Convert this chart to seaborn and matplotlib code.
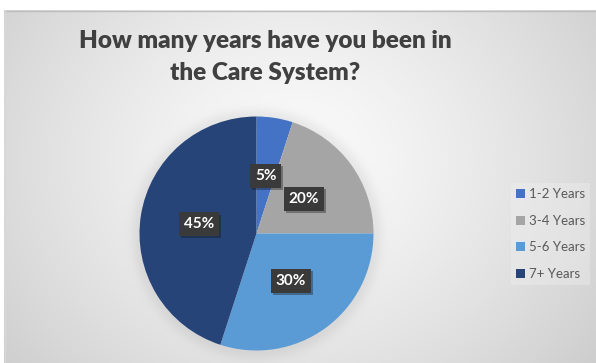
import numpy as np
import matplotlib
matplotlib.use("Agg")
import matplotlib.pyplot as plt
import matplotlib.patheffects as pe
import seaborn as sns

# Survey answers: years spent in the care system
categories = ["1-2 Years", "3-4 Years", "5-6 Years", "7+ Years"]
shares = [5, 20, 30, 45]
title = "How many years have you been in\nthe Care System?"

sns.set_style("white")
plt.rcParams["font.family"] = ["Lato", "DejaVu Sans"]
palette = sns.color_palette(["#4472C4", "#A5A5A5", "#5B9BD5", "#264478"])

W, H = 596, 363
fig = plt.figure(figsize=(W / 100, H / 100), dpi=100)
fig.patch.set_facecolor("white")

# Chart area with a soft radial gradient and a faint glow around the pie
left_px, top_px = 4, 10
bw, bh = W - left_px, H - top_px
bg = fig.add_axes([left_px / W, 0, bw / W, bh / H])
yy, xx = np.mgrid[0:bh, 0:bw]
cx, cy = 290, 150
d = np.sqrt(((xx - cx) / 1.15) ** 2 + (yy - cy) ** 2)
val = 0.985 - 0.20 * np.clip(d / 360, 0, 1) ** 1.3
pcx, pcy, pr = 256.5 - left_px, 233.5 - top_px, 117
dp = np.sqrt((xx - pcx) ** 2 + (yy - pcy) ** 2)
val -= 0.06 * np.exp(-((dp - pr) / 9) ** 2)
img = np.dstack([val, val, val])
bg.imshow(img, extent=(0, bw, bh, 0), aspect="auto", interpolation="bilinear")
bg.set_xlim(0, bw)
bg.set_ylim(bh, 0)
bg.axis("off")
bg.plot([0, bw], [0.5, 0.5], color="#bdbdbd", lw=1)
bg.plot([0.5, 0.5], [0, bh], color="#d8d8d8", lw=1)

# Pie
side = 2 * pr
ax = fig.add_axes([(256.5 - pr) / W, (H - 233.5 - pr) / H, side / W, side / H])
wedges, texts, autotexts = ax.pie(
    shares,
    colors=palette,
    startangle=90,
    counterclock=False,
    autopct=lambda p: f"{p:.0f}%",
    pctdistance=0.5,
    radius=1,
    wedgeprops=dict(linewidth=0),
    textprops=dict(color="white", fontsize=11, fontweight="bold"),
)
ax.set_xlim(-1, 1)
ax.set_ylim(-1, 1)
ax.set_aspect("equal")
ax.axis("off")
for t in autotexts:
    t.set_bbox(dict(boxstyle="square,pad=0.32", facecolor="#3a3a3a", edgecolor="none"))
    t.get_bbox_patch().set_path_effects(
        [pe.SimplePatchShadow(offset=(1.5, -1.5), alpha=0.35), pe.Normal()]
    )

# Title
fig.text(265 / W, 1 - 57 / H, title, ha="center", va="center",
         fontsize=17.5, fontweight="heavy", color="#404040", linespacing=1.5)

# Legend
leg = fig.legend(
    wedges, categories,
    loc="upper left", bbox_to_anchor=(511 / W, 1 - 183 / H),
    frameon=True, fontsize=9.5, labelcolor="#595959",
    handlelength=0.65, handleheight=0.65, handletextpad=0.3,
    labelspacing=1.1, borderpad=0.4, borderaxespad=0,
)
leg.get_frame().set_facecolor("#f2f2f2")
leg.get_frame().set_alpha(0.35)
leg.get_frame().set_edgecolor("none")
leg.get_frame().set_boxstyle("square", pad=0)

fig.savefig("out.png", dpi=100)
